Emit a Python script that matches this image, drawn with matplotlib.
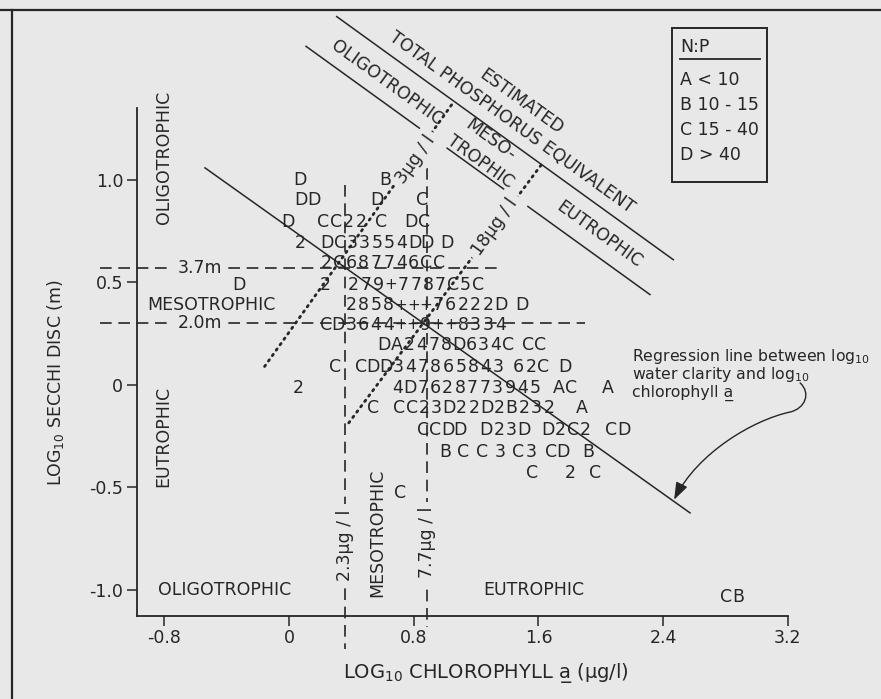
import matplotlib.pyplot as plt
import numpy as np
from matplotlib.patches import Rectangle, FancyArrowPatch
from matplotlib.path import Path

plt.rcParams['font.family'] = ['DejaVu Sans']
plt.rcParams['axes.unicode_minus'] = False
plt.rcParams['mathtext.default'] = 'regular'

INK = '#262626'
PAPER = '#e8e8e8'

# character plot: each segment is a run of symbols on one secchi row,
# starting at a log chlorophyll value (digits / + = several lakes in one cell)
seg_secchi = [1.00, 1.00, 0.90, 0.90, 0.90, 0.795, 0.795, 0.795, 0.795,
              0.693, 0.693, 0.693, 0.595, 0.488, 0.488, 0.488, 0.39, 0.39,
              0.293, 0.195, 0.195, 0.088, 0.088, 0.088, 0.088,
              -0.015, -0.015, -0.015, -0.015, -0.112, -0.112, -0.112,
              -0.22, -0.22, -0.22, -0.22,
              -0.327, -0.327, -0.327, -0.327, -0.327, -0.327, -0.327,
              -0.43, -0.43, -0.43, -0.527, -1.034]
seg_chl = [0.069, 0.618, 0.079, 0.564, 0.854, -0.01, 0.221, 0.589, 0.785,
           0.069, 0.245, 1.011, 0.240, -0.324, 0.231, 0.412, 0.397, 1.492,
           0.236, 0.608, 1.531, 0.294, 0.461, 1.472, 1.767,
           0.059, 0.697, 1.732, 2.046, 0.540, 0.707, 1.879,
           0.859, 1.266, 1.659, 2.066,
           1.001, 1.119, 1.237, 1.354, 1.472, 1.678, 1.919,
           1.560, 1.806, 1.963, 0.712, 2.80]
seg_chars = ["D", "B", "DD", "D", "C", "D", "CC22", "C", "DC",
             "2", "DC33554DD", "D", "2C687746CC", "D", "2", "279+7787C5C",
             "2858+++76222D", "D",
             "CD3644++9++8334", "DA2478D634C", "CC", "C", "CDD347865843",
             "62C", "D",
             "2", "4D7628773945", "AC", "A", "C", "CC23D22D2B232", "A",
             "CCDD", "D23D", "D2C2", "CD",
             "B", "C", "C", "3", "C3", "CD", "B",
             "C", "2", "C", "C", "CB"]
char_step = 0.080

# regression of log secchi on log chlorophyll (end points)
reg_chl = [-0.539, 2.572]
reg_secchi = [1.059, -0.624]

# secchi depth boundaries (m) and chlorophyll boundaries (ug/l)
secchi_m = [3.7, 2.0]
secchi_x_end = [1.353, 1.899]
chl_ug = [2.3, 7.7]
chl_y_top = [0.975, 1.06]
chl_y_bot = [-1.29, -1.18]

# total phosphorus equivalent lines (3 and 18 ug/l)
tp_labels = ['3µg / l', '18µg / l']
tp_chl = [[-0.157, 1.06], [0.383, 1.619]]
tp_secchi = [[0.09, 1.385], [-0.185, 1.075]]
tp_label_pos = [(0.809, 1.098), (1.321, 0.771)]

# N:P classes
np_classes = ['A < 10', 'B 10 - 15', 'C 15 - 40', 'D > 40']

fig = plt.figure(figsize=(8.81, 6.99), dpi=100, facecolor=PAPER)
ax = fig.add_axes([0, 0, 1, 1], facecolor=PAPER)
ax.set_xlim(-1.854, 3.797)
ax.set_ylim(-1.532, 1.878)

for s in ['top', 'right']:
    ax.spines[s].set_visible(False)
ax.spines['left'].set_position(('data', -0.975))
ax.spines['bottom'].set_position(('data', -1.125))
ax.spines['left'].set_bounds(-1.125, 1.35)
ax.spines['bottom'].set_bounds(-0.975, 3.2)
for s in ['left', 'bottom']:
    ax.spines[s].set_color(INK)
    ax.spines[s].set_linewidth(1.3)

ax.set_xticks([-0.8, 0, 0.8, 1.6, 2.4, 3.2])
ax.set_xticklabels(['-0.8', '0', '0.8', '1.6', '2.4', '3.2'])
ax.set_yticks([-1.0, -0.5, 0, 0.5, 1.0])
ax.set_yticklabels(['-1.0', '-0.5', '0', '0.5', '1.0'])
ax.tick_params(direction='out', length=7, width=1.1, colors=INK,
               labelsize=12.5, pad=3)

txt = dict(color=INK, fontsize=12.5, ha='center', va='center')
mask = dict(boxstyle='square,pad=0.3', fc=PAPER, ec='none')

# page frame
ax.plot([-1.854, 3.797], [1.829, 1.829], color=INK, lw=1.6, clip_on=False)
ax.plot([-1.777, -1.777], [1.829, -1.532], color=INK, lw=1.6, clip_on=False)

# dashed trophic boundaries
for m, xe in zip(secchi_m, secchi_x_end):
    ax.plot([-1.212, xe], [np.log10(m)] * 2, color=INK, lw=1.2,
            linestyle=(0, (7, 4)), zorder=1)
    ax.text(-0.569, np.log10(m), '%.1fm' % m, bbox=mask, zorder=3, **txt)
for c, yt, yb in zip(chl_ug, chl_y_top, chl_y_bot):
    ax.plot([np.log10(c)] * 2, [yt, yb], color=INK, lw=1.2,
            linestyle=(0, (7, 4)), zorder=1, clip_on=False)
for c, yc in zip(chl_ug, [-0.78, -0.77]):
    ax.text(np.log10(c), yc, '%.1fµg / l' % c, rotation=90, bbox=mask,
            zorder=3, **txt)

# dotted phosphorus equivalents
for lab, xs, ys, pos in zip(tp_labels, tp_chl, tp_secchi, tp_label_pos):
    ax.plot(xs, ys, color=INK, lw=2.0, linestyle=(0, (0.6, 1.8)),
            dash_capstyle='round', zorder=1)
    ax.text(pos[0], pos[1], lab, rotation=54.6, rotation_mode='anchor',
            bbox=mask, zorder=3, **txt)

# diagonal band, parallel to the regression
ax.plot([0.306, 2.465], [1.797, 0.611], color=INK, lw=1.1)
band_bx = [0.109, 2.315]
band_by = [1.652, 0.441]
for x0, x1 in [(0.109, 0.885), (1.014, 1.386), (1.514, 2.315)]:
    ax.plot([x0, x1], np.interp([x0, x1], band_bx, band_by), color=INK, lw=1.1)
rot = -35.8
band_text = dict(rotation=rot, rotation_mode='anchor', **txt)
ax.text(1.488, 1.380, 'ESTIMATED', **band_text)
ax.text(1.431, 1.283, 'TOTAL PHOSPHORUS EQUIVALENT', **band_text)
ax.text(0.629, 1.473, 'OLIGOTROPHIC', **band_text)
ax.text(1.290, 1.195, 'MESO-', **band_text)
ax.text(1.225, 1.088, 'TROPHIC', **band_text)
ax.text(1.988, 0.732, 'EUTROPHIC', **band_text)

# regression line
ax.plot(reg_chl, reg_secchi, color=INK, lw=1.1, zorder=2)

# symbols
for ys, xs, chars in zip(seg_secchi, seg_chl, seg_chars):
    for i, ch in enumerate(chars):
        size = 11 if ch == '+' else 12.5
        ax.text(xs + i * char_step, ys, ch, color=INK, fontsize=size,
                ha='center', va='center', zorder=4)

# region labels
ax.text(-0.805, 1.11, 'OLIGOTROPHIC', rotation=90, **txt)
ax.text(-0.805, -0.25, 'EUTROPHIC', rotation=90, **txt)
ax.text(-0.50, 0.39, 'MESOTROPHIC', **txt)
ax.text(-0.412, -1.0, 'OLIGOTROPHIC', **txt)
ax.text(1.570, -1.0, 'EUTROPHIC', **txt)
ax.text(0.569, -0.72, 'MESOTROPHIC', rotation=90, **txt)

# N:P legend box
ax.add_patch(Rectangle((2.456, 0.99), 0.609, 0.751, fill=False, ec=INK, lw=1.4))
ax.text(2.508, 1.649, 'N:P', color=INK, fontsize=12.5, ha='left', va='center')
ax.plot([2.508, 3.023], [1.59, 1.59], color=INK, lw=1.3)
for i, lab in enumerate(np_classes):
    ax.text(2.508, 1.488 - 0.122 * i, lab, color=INK, fontsize=12.5,
            ha='left', va='center')

# regression annotation
note = ['Regression line between log$_{10}$', 'water clarity and log$_{10}$',
        'chlorophyll a\u0332']
for i, line in enumerate(note):
    ax.text(2.200, 0.137 - 0.087 * i, line, color=INK, fontsize=11.3,
            ha='left', va='center')
arrow_path = Path([(3.278, 0.01), (3.35, -0.04), (3.31, -0.115), (3.214, -0.132),
                   (2.98, -0.17), (2.62, -0.33), (2.47, -0.56)],
                  [Path.MOVETO, Path.CURVE4, Path.CURVE4, Path.CURVE4,
                   Path.CURVE4, Path.CURVE4, Path.CURVE4])
ax.add_patch(FancyArrowPatch(path=arrow_path,
                             arrowstyle='-|>,head_length=0.7,head_width=0.25',
                             mutation_scale=15, color=INK, lw=1.0))

# axis titles
ax.text(-1.501, 0.01, 'LOG$_{10}$ SECCHI DISC (m)', rotation=90, **txt)
ax.text(1.264, -1.405, 'LOG$_{10}$ CHLOROPHYLL a\u0332 (µg/l)', color=INK,
        fontsize=14, ha='center', va='center')

fig.savefig('out.png', dpi=100, facecolor=PAPER)
